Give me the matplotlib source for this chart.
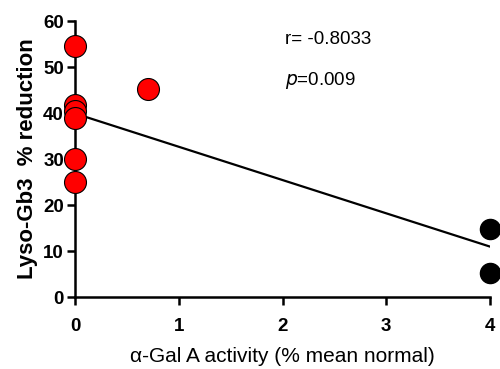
import matplotlib.pyplot as plt
import numpy as np

plt.rcParams['font.family'] = ['Liberation Sans', 'DejaVu Sans']

# alpha-Gal A activity vs Lyso-Gb3 reduction
red_x = [0, 0, 0, 0, 0, 0, 0.7]
red_y = [54.5, 41.8, 40.5, 39.0, 30.0, 25.0, 45.3]
black_x = [4, 4]
black_y = [14.8, 5.3]
x_ticks = [0, 1, 2, 3, 4]
y_ticks = [0, 10, 20, 30, 40, 50, 60]

all_x = np.array(red_x + black_x)
all_y = np.array(red_y + black_y)
slope, intercept = np.polyfit(all_x, all_y, 1)

fig = plt.figure(figsize=(5, 3.69), dpi=100)
ax = fig.add_axes([0.15, 0.195, 0.83, 0.748])

fit_x = np.array([0, 4])
ax.plot(fit_x, slope * fit_x + intercept, color='black', lw=1.6, zorder=2)

ax.scatter(red_x, red_y, s=250, c='#ff0000', edgecolors='black',
           linewidths=0.8, zorder=3, clip_on=False)
ax.scatter(black_x, black_y, s=210, c='black', edgecolors='black',
           zorder=3, clip_on=False)

ax.set_xlim(0, 4)
ax.set_ylim(0, 60)
ax.set_xticks(x_ticks)
ax.set_yticks(y_ticks)

for side in ['top', 'right']:
    ax.spines[side].set_visible(False)
for side in ['left', 'bottom']:
    ax.spines[side].set_linewidth(1.8)

ax.tick_params(axis='both', width=1.8, length=6, labelsize=13.5)
ax.tick_params(axis='x', pad=9)
ax.tick_params(axis='y', pad=2)
for lbl in ax.get_xticklabels() + ax.get_yticklabels():
    lbl.set_fontweight('bold')

ax.set_ylabel('Lyso-Gb3  % reduction', fontsize=16, fontweight='bold', labelpad=4)
ax.set_xlabel('α-Gal A activity (% mean normal)', fontsize=15, labelpad=9)

ax.text(2.02, 56.0, 'r= -0.8033', fontsize=13.5, ha='left', va='center')
ax.text(2.02, 47.0, r'$\it{p}$=0.009', fontsize=13.5, ha='left', va='center')

fig.savefig('out.png', dpi=100)
